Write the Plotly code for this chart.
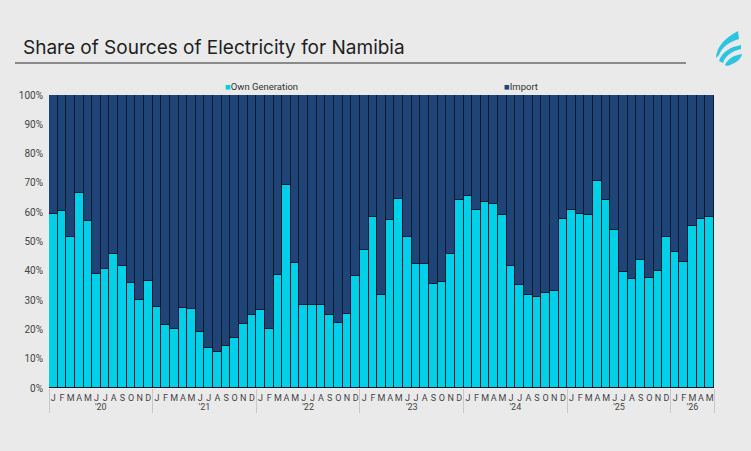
import plotly.graph_objects as go

years = ["'20", "'21", "'22", "'23", "'24", "'25", "'26"]
month_letters = ["J", "F", "M", "A", "M", "J", "J", "A", "S", "O", "N", "D"]
months_per_year = [12, 12, 12, 12, 12, 12, 5]

own_generation = [
    59.3, 60.3, 51.7, 66.4, 56.9, 38.9, 40.5, 45.6, 41.7, 35.7, 29.9, 36.4,
    27.5, 21.4, 20.3, 27.3, 27.1, 19.0, 13.5, 12.2, 14.5, 17.1, 21.7, 24.8,
    26.7, 20.1, 38.4, 69.2, 42.5, 28.2, 28.2, 28.4, 24.9, 22.3, 25.4, 38.2,
    47.0, 58.4, 31.6, 57.2, 64.4, 51.4, 42.3, 42.3, 35.5, 36.3, 45.6, 64.2,
    65.6, 60.8, 63.5, 62.8, 59.1, 41.6, 35.2, 31.9, 31.0, 32.4, 33.0, 57.8,
    60.7, 59.4, 59.0, 70.7, 64.3, 54.0, 39.7, 37.2, 43.7, 37.5, 39.9, 51.5,
    46.5, 43.0, 55.3, 57.7, 58.4,
]
imports = [round(100 - v, 1) for v in own_generation]

# make repeated month letters unique within a year (zero-width spaces, invisible)
def unique_labels(letters):
    seen = {}
    out = []
    for m in letters:
        k = seen.get(m, 0)
        out.append(m + "\u200b" * k)
        seen[m] = k + 1
    return out

month_cats = unique_labels(month_letters)

x_year, x_month = [], []
for y, n in zip(years, months_per_year):
    for m in month_cats[:n]:
        x_year.append(y)
        x_month.append(m)

CYAN = "#00d0e8"
NAVY = "#1f4478"
EDGE = "#0c1a2e"

fig = go.Figure()
fig.add_trace(go.Bar(x=[x_year, x_month], y=[v / 100 for v in own_generation],
                     name="Own Generation", marker=dict(color=CYAN, line=dict(color=EDGE, width=1))))
fig.add_trace(go.Bar(x=[x_year, x_month], y=[v / 100 for v in imports],
                     name="Import", marker=dict(color=NAVY, line=dict(color=EDGE, width=1))))

W, H = 751, 451
L, R, T, B = 49, 714, 95, 388

def px(x):
    return (x - L) / (R - L)

def py(y):
    return (B - y) / (B - T)

def path(pts_str):
    out = []
    for tok in pts_str.split():
        if "," in tok:
            a, b = tok.split(",")
            out.append(f"{px(float(a)):.5f},{py(float(b)):.5f}")
        else:
            out.append(tok)
    return " ".join(out)

shapes = [
    dict(type="line", xref="paper", yref="paper", x0=px(15), x1=px(686), y0=py(63), y1=py(63),
         line=dict(color="#2b2b2b", width=1)),
    dict(type="path", xref="paper", yref="paper", fillcolor="#2ec4e0", line=dict(width=0),
         path=path("M 738,31 C 726,37 716,47 716,58 L 719,55 C 722,47 729,42 739,39 Z")),
    dict(type="path", xref="paper", yref="paper", fillcolor="#2ec4e0", line=dict(width=0),
         path=path("M 719,61 C 722,52 730,47 741,45 L 741,49 C 732,51 725,56 723,63 Z")),
    dict(type="path", xref="paper", yref="paper", fillcolor="#2ec4e0", line=dict(width=0),
         path=path("M 725,65 C 728,58 735,55 742,54 C 741,60 734,64 727,66 Z")),
]

annotations = [
    dict(text="Share of Sources of Electricity for Namibia", xref="paper", yref="paper",
         x=px(21), y=py(47), xanchor="left", yanchor="middle", showarrow=False,
         font=dict(family="Inter", size=19, color="#1e1e1e")),
    dict(text=f'<span style="color:{CYAN}">■</span>Own Generation', xref="paper", yref="paper",
         x=px(223), y=py(86), xanchor="left", yanchor="middle", showarrow=False,
         font=dict(family="Roboto", size=9.5, color="#333")),
    dict(text=f'<span style="color:{NAVY}">■</span>Import', xref="paper", yref="paper",
         x=px(502), y=py(86), xanchor="left", yanchor="middle", showarrow=False,
         font=dict(family="Roboto", size=9.5, color="#333")),
]

fig.update_layout(
    width=W, height=H,
    margin=dict(l=L, r=W - R, t=T, b=H - B, pad=0),
    barmode="stack", bargap=0,
    paper_bgcolor="#eaeaea", plot_bgcolor="#f4f4f4",
    showlegend=False,
    shapes=shapes, annotations=annotations,
    xaxis=dict(type="multicategory", showgrid=False, zeroline=False, showline=False, ticks="",
               tickmode="linear", tick0=0, dtick=1, ticklabelstandoff=3,
               tickangle=0, showdividers=True, dividercolor="#c8c8c8", dividerwidth=1,
               tickfont=dict(family="Roboto", size=9, color="#444")),
    yaxis=dict(range=[0, 1], dtick=0.1, tickformat=".0%", showgrid=False, zeroline=False,
               ticks="", ticklen=0, ticklabelstandoff=5,
               tickfont=dict(family="Roboto", size=10, color="#444")),
)

fig.write_html("out.html")
